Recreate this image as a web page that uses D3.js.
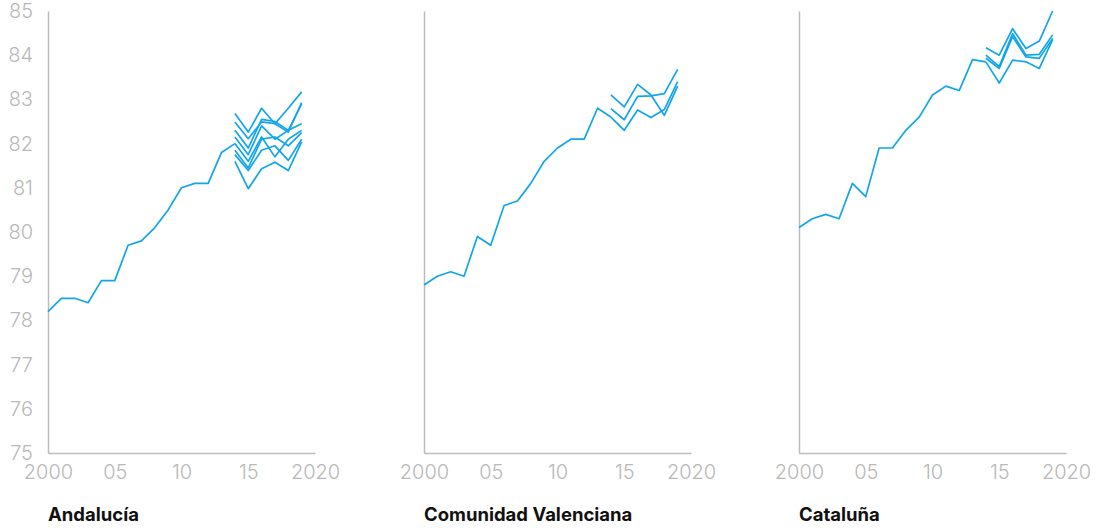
<!DOCTYPE html>
<html><head><meta charset="utf-8">
<script src="https://cdn.jsdelivr.net/npm/d3@7"></script>
<style>
body{margin:0;background:#fff;}
svg{display:block;}
.tick text{font-family:Inter, "Liberation Sans", sans-serif;font-weight:300;fill:#b8b8b8;}
.title{font-family:Inter, "Liberation Sans", sans-serif;font-weight:700;font-size:18.5px;fill:#111;}
</style></head>
<body>
<svg id="c" width="1105" height="528"></svg>
<script>
// ---- data ----
const years = d3.range(2000, 2015);            // regional series 2000-2014
const provYears = [2014, 2015, 2016, 2017, 2018, 2019];
const xTicks = [2000, 2005, 2010, 2015, 2020];
const xTickLabels = ["2000", "05", "10", "15", "2020"];
const yTicks = [75, 76, 77, 78, 79, 80, 81, 82, 83, 84, 85];

const regions = ["Andalucía", "Comunidad Valenciana", "Cataluña"];

const andalucia = [78.2, 78.5, 78.5, 78.4, 78.9, 78.9, 79.7, 79.8, 80.1, 80.5, 81.0, 81.1, 81.1, 81.8, 82.0];
const valencia  = [78.8, 79.0, 79.1, 79.0, 79.9, 79.7, 80.6, 80.7, 81.1, 81.6, 81.9, 82.1, 82.1, 82.8, 82.6];
const cataluna  = [80.1, 80.3, 80.4, 80.3, 81.1, 80.8, 81.9, 81.9, 82.3, 82.6, 83.1, 83.3, 83.2, 83.9, 83.85];

const andaluciaProv = [
  [82.68, 82.26, 82.80, 82.45, 82.80, 83.17],
  [82.49, 82.11, 82.49, 82.45, 82.26, 82.93],
  [82.30, 81.90, 82.55, 82.50, 82.30, 82.90],
  [82.15, 81.75, 82.40, 82.10, 82.30, 82.45],
  [82.00, 81.60, 82.15, 81.70, 82.10, 82.30],
  [81.85, 81.45, 82.10, 82.15, 81.95, 82.25],
  [81.75, 81.39, 81.85, 81.95, 81.62, 82.10],
  [81.60, 80.98, 81.43, 81.58, 81.39, 82.04]
];
const valenciaProv = [
  [83.10, 82.83, 83.34, 83.10, 82.64, 83.30],
  [82.79, 82.54, 83.07, 83.08, 83.13, 83.68],
  [82.60, 82.30, 82.76, 82.59, 82.77, 83.40]
];
const catalunaProv = [
  [84.17, 84.00, 84.60, 84.15, 84.32, 85.00],
  [84.00, 83.74, 84.49, 84.00, 84.02, 84.46],
  [83.93, 83.70, 84.42, 83.96, 83.93, 84.38],
  [83.85, 83.37, 83.89, 83.85, 83.70, 84.35]
];

const mainSeries = [andalucia, valencia, cataluna];
const provSeries = [andaluciaProv, valenciaProv, catalunaProv];

// ---- layout ----
const svg = d3.select("#c");
const panelLeft = [48, 424, 799];
const panelW = 267;
const plotTop = 11, plotBottom = 453;
const color = "#12a5eb";

const y = d3.scaleLinear().domain([75, 85]).range([plotBottom, plotTop]);

regions.forEach((name, i) => {
  const g = svg.append("g").attr("transform", `translate(${panelLeft[i]},0)`);
  const x = d3.scaleLinear().domain([2000, 2020]).range([0, panelW]);

  const xa = g.append("g").attr("transform", `translate(0,${plotBottom})`)
    .call(d3.axisBottom(x).tickValues(xTicks).tickFormat((d, k) => xTickLabels[k]).tickSize(0).tickSizeOuter(0).tickPadding(12));
  xa.select(".domain").attr("stroke", "#bcbcbc").attr("stroke-width", 1.5);
  xa.selectAll("text").attr("font-size", "20px");

  const ya = g.append("g")
    .call(d3.axisLeft(y).tickValues(yTicks).tickSize(0).tickSizeOuter(0).tickPadding(15));
  ya.select(".domain").attr("stroke", "#bcbcbc").attr("stroke-width", 1.5);
  ya.selectAll("text").attr("font-size", "20px").attr("opacity", i === 0 ? 1 : 0);

  const line = d3.line().x(d => x(d[0])).y(d => y(d[1]));

  g.append("path")
    .datum(years.map((yr, k) => [yr, mainSeries[i][k]]))
    .attr("fill", "none").attr("stroke", color).attr("stroke-width", 1.7)
    .attr("stroke-linejoin", "round").attr("d", line);

  provSeries[i].forEach(s => {
    g.append("path")
      .datum(provYears.map((yr, k) => [yr, s[k]]))
      .attr("fill", "none").attr("stroke", color).attr("stroke-width", 1.7)
      .attr("stroke-linejoin", "round").attr("d", line);
  });

  g.append("text").attr("class", "title").attr("x", 0).attr("y", 521).text(name);
});
</script>
</body></html>
